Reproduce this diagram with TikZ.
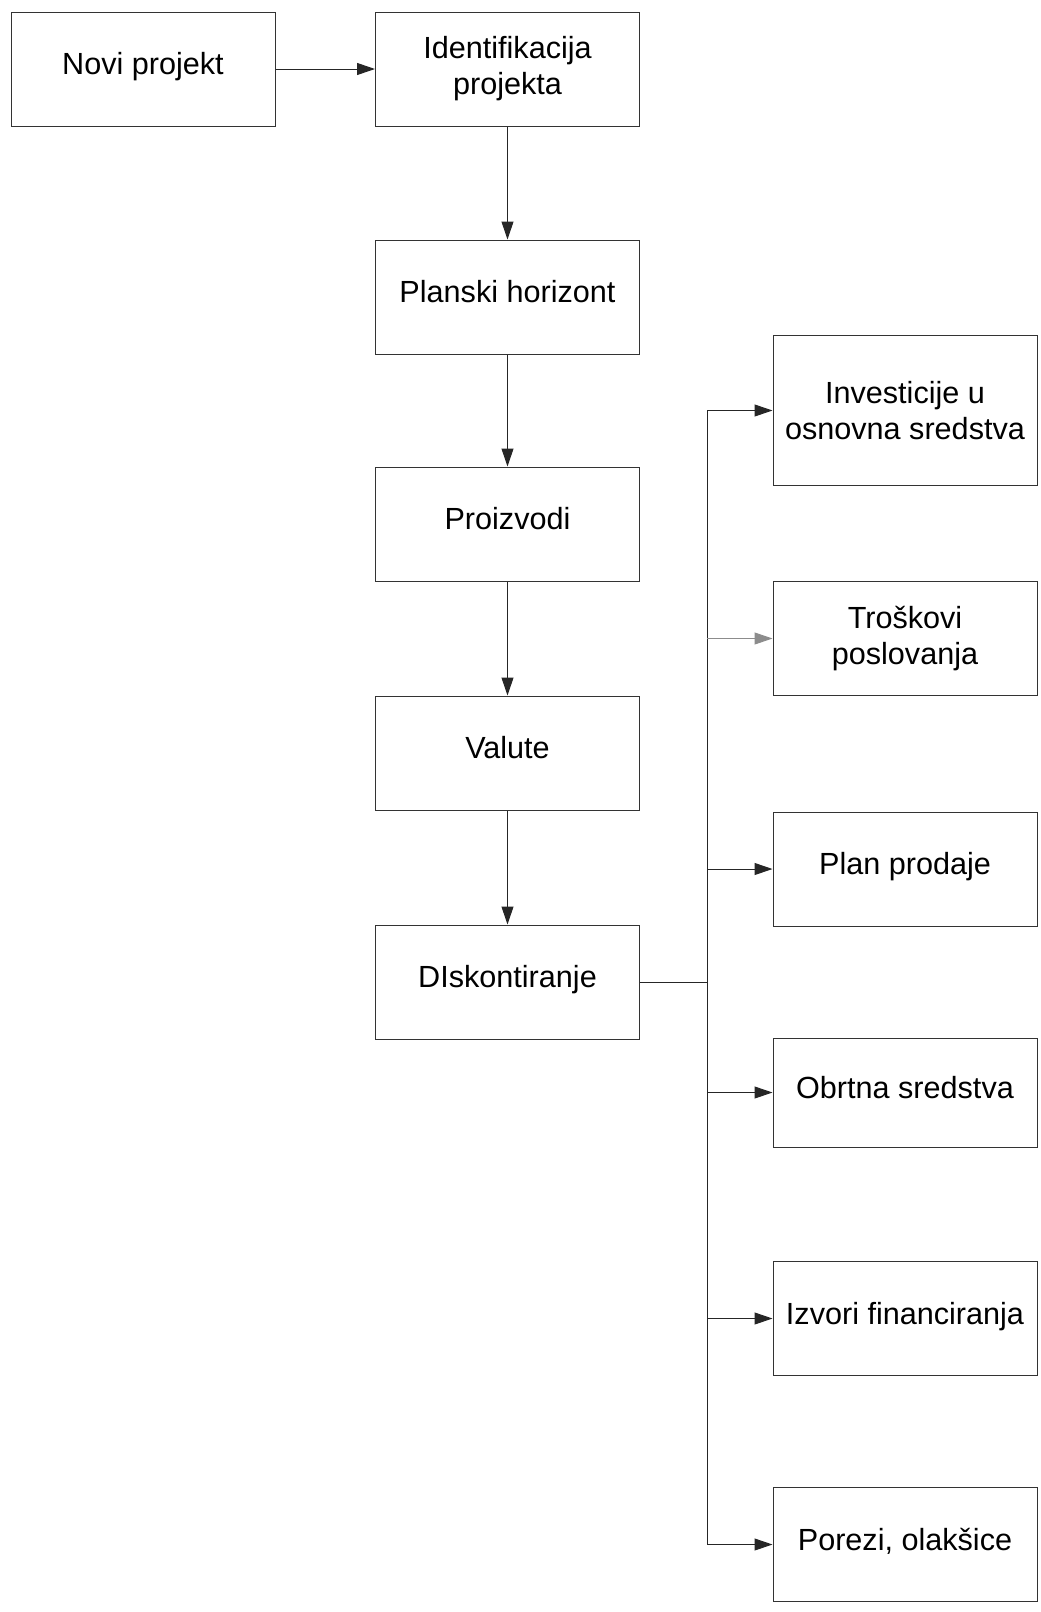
\documentclass[tikz,border=0pt]{standalone}
\usepackage{fontspec}
\setmainfont{Liberation Sans}
\usetikzlibrary{arrows.meta}
\tikzset{
  box/.style = {
    draw=black!80, line width=0.5pt, align=center, inner sep=0pt,
    minimum width=132pt, minimum height=57pt,
    font=\fontsize{15.3}{18}\selectfont
  },
  oneline/.style = {box, text height=11pt, text depth=5.4pt},
  link/.style = {line width=0.5pt, draw=black!85},
  arr/.style = {link, -{Triangle[length=9pt, width=6pt]}}
}
\begin{document}
\begin{tikzpicture}[x=0.5pt, y=-0.5pt]
  \useasboundingbox (0,0) rectangle (1040,1612);
  % main column
  \node[oneline] (novi)  at (143,69)   {Novi projekt};
  \node[box] (ident) at (507.5,69) {Identifikacija\\projekta};
  \node[oneline] (hor)   at (507.5,297) {Planski horizont};
  \node[oneline] (proi)  at (507.5,524) {Proizvodi};
  \node[oneline] (val)   at (507.5,753) {Valute};
  \node[oneline] (disk)  at (507.5,982) {DIskontiranje};
  % right column
  \node[box, minimum height=75pt] (inv) at (905,410.5) {Investicije u\\osnovna sredstva};
  \node[box] (tro) at (905,638.5) {Troškovi\\poslovanja};
  \node[oneline] (pla) at (905,869)   {Plan prodaje};
  \node[oneline, minimum height=54.5pt] (obr) at (905,1092.5) {Obrtna sredstva};
  \node[oneline] (izv) at (905,1318.5) {Izvori financiranja};
  \node[oneline] (por) at (905,1544.5) {Porezi, olakšice};

  \draw[arr] (novi) -- (ident);
  \draw[arr] (ident) -- (hor);
  \draw[arr] (hor) -- (proi);
  \draw[arr] (proi) -- (val);
  \draw[arr] (val) -- (disk);

  \coordinate (bus) at (707,982);
  \draw[link] (disk.east) -- (bus);
  \draw[link] (bus |- inv.west) -- (bus |- por.west);
  \draw[arr, draw=black!45] (bus |- tro.west) -- (tro.west);
  \foreach \n in {inv, pla, obr, izv, por}
    \draw[arr] (bus |- \n.west) -- (\n.west);
\end{tikzpicture}
\end{document}
